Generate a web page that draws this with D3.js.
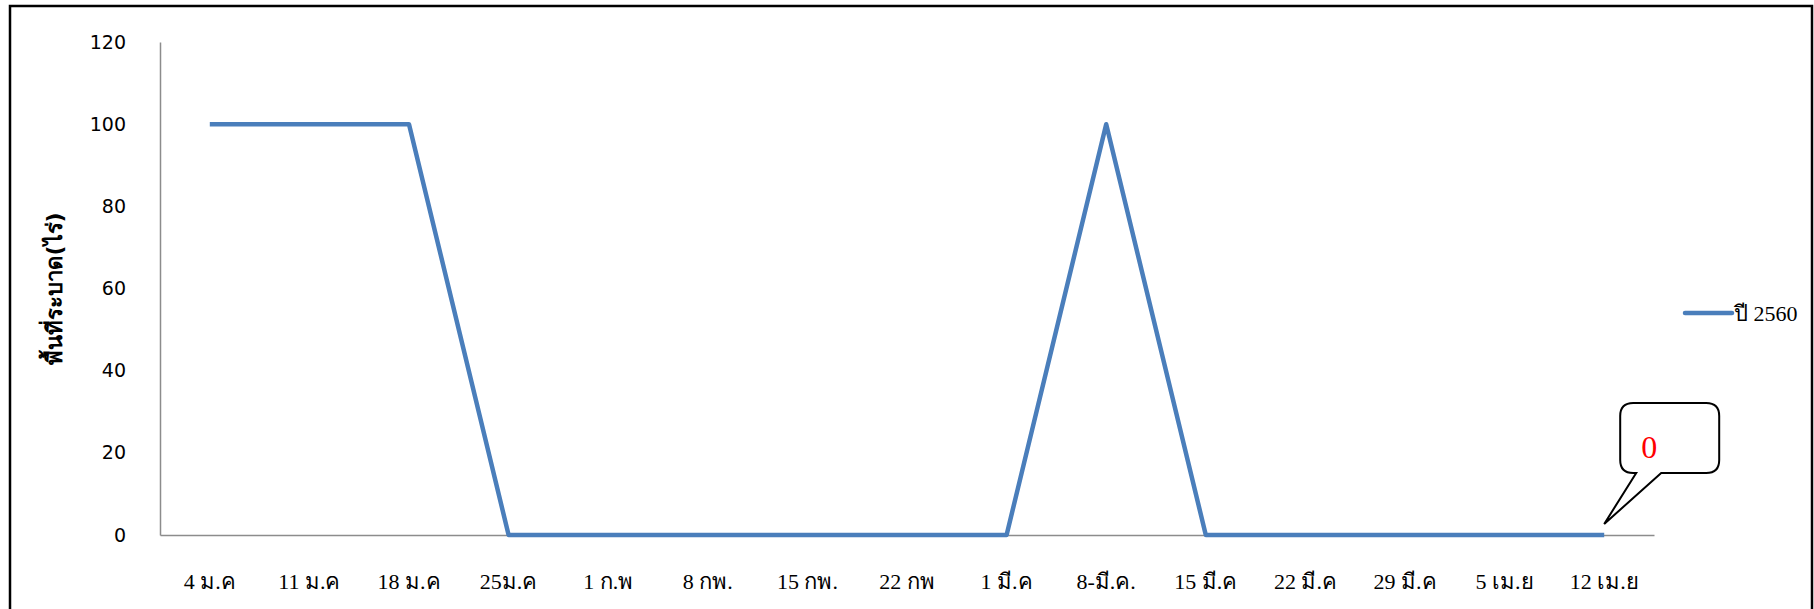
<!DOCTYPE html>
<html lang="th">
<head>
  <meta charset="UTF-8">
  <title>พื้นที่ระบาด</title>
  <style>
    body { margin: 0; background: #fff; }
    .y-axis text { font-family: Tahoma, "DejaVu Sans", sans-serif; font-size: 19px; fill: #000; }
    .x-axis text { font-family: "Liberation Serif", "Noto Sans", serif; font-size: 22px; fill: #000; }
  </style>
  <script src="https://d3js.org/d3.v7.min.js"></script>
</head>
<body>
  <svg id="chart"></svg>
  <script>
    const weeks = ["4 ม.ค", "11 ม.ค", "18 ม.ค", "25ม.ค", "1 ก.พ", "8 กพ.", "15 กพ.", "22 กพ",
      "1 มี.ค", "8-มี.ค.", "15 มี.ค", "22 มี.ค", "29 มี.ค", "5 เม.ย", "12 เม.ย"];
    const area2560 = [100, 100, 100, 0, 0, 0, 0, 0, 0, 100, 0, 0, 0, 0, 0];
    const seriesName = "ปี 2560";
    const yTicks = [0, 20, 40, 60, 80, 100, 120];
    const yTitle = "พื้นที่ระบาด(ไร่)";

    const W = 1814, H = 609;
    const plot = { left: 160, right: 1654, top: 42, bottom: 535 };
    const lineColor = "#4a7ebb";

    const svg = d3.select("#chart").attr("width", W).attr("height", H);

    // outer frame
    svg.append("rect")
      .attr("x", 10).attr("y", 6)
      .attr("width", 1802).attr("height", 620)
      .attr("fill", "none").attr("stroke", "#000").attr("stroke-width", 2.5);

    const x = d3.scaleBand().domain(weeks).range([plot.left, plot.right]);
    const y = d3.scaleLinear().domain([0, 120]).range([plot.bottom, plot.top]);

    const yAxis = svg.append("g")
      .attr("class", "y-axis")
      .attr("transform", `translate(${plot.left},0)`)
      .call(d3.axisLeft(y).tickValues(yTicks).tickSize(0).tickPadding(34));
    yAxis.select(".domain").attr("stroke", "#8c8c8c").attr("stroke-width", 1.5);

    const xAxis = svg.append("g")
      .attr("class", "x-axis")
      .attr("transform", `translate(0,${plot.bottom})`)
      .call(d3.axisBottom(x).tickSize(0).tickPadding(38));
    xAxis.select(".domain").attr("stroke", "#8c8c8c").attr("stroke-width", 1.5);

    // y title
    svg.append("text")
      .attr("transform", `translate(62,${(plot.top + plot.bottom) / 2}) rotate(-90)`)
      .attr("text-anchor", "middle")
      .attr("font-family", "Tahoma, 'DejaVu Sans', sans-serif")
      .attr("font-weight", "bold")
      .attr("font-size", 22)
      .text(yTitle);

    const cx = d => x(d) + x.bandwidth() / 2;

    svg.append("path")
      .datum(area2560)
      .attr("fill", "none")
      .attr("stroke", lineColor)
      .attr("stroke-width", 4.5)
      .attr("stroke-linejoin", "round")
      .attr("d", d3.line().x((d, i) => cx(weeks[i])).y(d => y(d)));

    // legend
    const lg = svg.append("g").attr("transform", "translate(1685,313)");
    lg.append("line").attr("x1", 0).attr("x2", 47).attr("stroke", lineColor)
      .attr("stroke-width", 4.5).attr("stroke-linecap", "round");
    lg.append("text").attr("x", 49).attr("y", 8)
      .attr("font-family", "'Liberation Serif', serif").attr("font-size", 22)
      .text(seriesName);

    // callout on the last point
    const last = area2560.length - 1;
    const tipX = cx(weeks[last]), tipY = y(area2560[last]) - 11;
    const bx = tipX + 16, by = tipY - 121, bw = 99, bh = 70, r = 13;
    const callout = `M${bx + r},${by} H${bx + bw - r} Q${bx + bw},${by} ${bx + bw},${by + r}
      V${by + bh - r} Q${bx + bw},${by + bh} ${bx + bw - r},${by + bh}
      H${bx + 41} L${tipX},${tipY} L${bx + 16},${by + bh}
      H${bx + r} Q${bx},${by + bh} ${bx},${by + bh - r}
      V${by + r} Q${bx},${by} ${bx + r},${by} Z`;
    svg.append("path").attr("d", callout)
      .attr("fill", "#fff").attr("stroke", "#000").attr("stroke-width", 2);
    svg.append("text")
      .attr("x", bx + 29).attr("y", by + 55)
      .attr("text-anchor", "middle")
      .attr("fill", "#ff0000")
      .attr("font-family", "'Liberation Serif', serif")
      .attr("font-size", 32)
      .text(area2560[last]);
  </script>
</body>
</html>
